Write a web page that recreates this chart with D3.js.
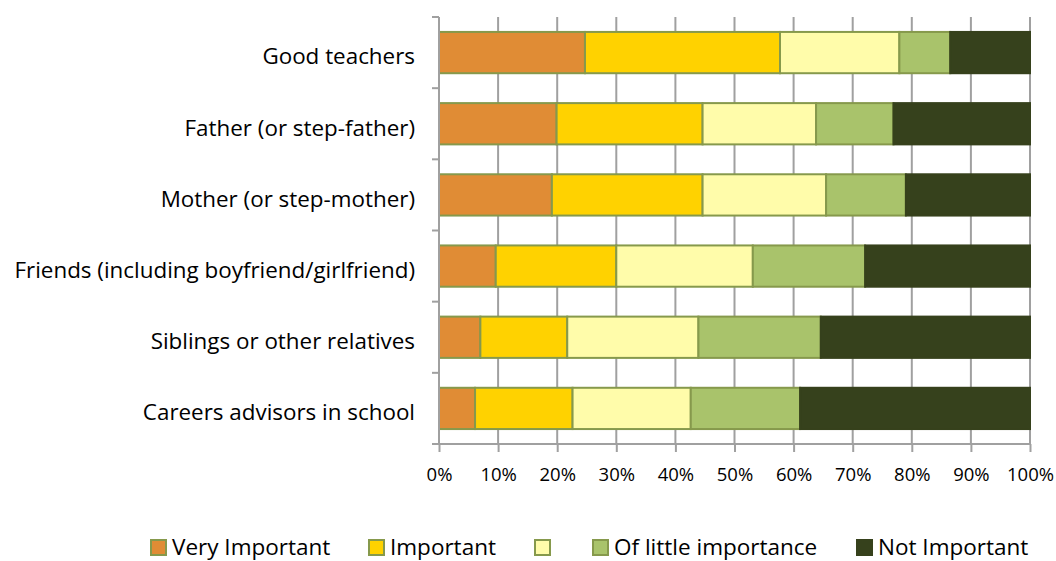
<!DOCTYPE html>
<html>
<head>
<meta charset="utf-8">
<script src="https://cdn.jsdelivr.net/npm/d3@7"></script>
<style>
  body { margin: 0; background: #fff; }
  svg { display: block; }
  .axis path, .axis line { stroke: #a0a0a0; stroke-width: 2px; }
</style>
</head>
<body>
<svg id="chart" width="1056" height="561"></svg>
<script>
// categories top to bottom
var categories = ["Good teachers", "Father (or step-father)", "Mother (or step-mother)",
  "Friends (including boyfriend/girlfriend)", "Siblings or other relatives", "Careers advisors in school"];

var seriesNames = ["Very Important", "Important", "", "Of little importance", "Not Important"];

// percentages per category, one array per series
var veryImportant   = [24.7, 19.9, 19.1, 9.6, 7.0, 6.1];
var important       = [33.0, 24.7, 25.5, 20.4, 14.7, 16.5];
var neutral         = [20.2, 19.2, 20.9, 23.1, 22.2, 20.0];
var littleImportant = [8.6, 13.1, 13.5, 19.0, 20.7, 18.5];
var notImportant    = [13.5, 23.1, 21.0, 27.9, 35.4, 38.9];

var xTicks = [0, 10, 20, 30, 40, 50, 60, 70, 80, 90, 100];

var colors = ["#e08c35", "#ffd200", "#fffcaa", "#a9c36b", "#36411c"];
var strokes = ["#86994c", "#86994c", "#86994c", "#86994c", "#36411c"];

var allSeries = [veryImportant, important, neutral, littleImportant, notImportant];
var keys = ["s0", "s1", "s2", "s3", "s4"];

var table = categories.map(function(c, i) {
  var row = {cat: c};
  allSeries.forEach(function(s, j) { row[keys[j]] = s[i]; });
  return row;
});

var svg = d3.select("#chart"),
    margin = {top: 17, right: 26, bottom: 117, left: 439},
    width = +svg.attr("width") - margin.left - margin.right,
    height = +svg.attr("height") - margin.top - margin.bottom,
    g = svg.append("g").attr("transform", "translate(" + margin.left + "," + margin.top + ")");

var x = d3.scaleLinear().domain([0, 100]).range([0, width]);
var y = d3.scaleBand().domain(categories).range([0, height]).paddingInner(0.42).paddingOuter(0.21);

// vertical gridlines
g.append("g").selectAll("line")
  .data(xTicks.slice(1))
  .enter().append("line")
  .attr("x1", function(d) { return x(d); })
  .attr("x2", function(d) { return x(d); })
  .attr("y1", 0).attr("y2", height)
  .attr("stroke", "#a0a0a0").attr("stroke-width", 2);

var stack = d3.stack().keys(keys);

var layer = g.selectAll(".serie")
  .data(stack(table))
  .enter().append("g")
  .attr("class", "serie")
  .attr("fill", function(d, i) { return colors[i]; })
  .attr("stroke", function(d, i) { return strokes[i]; });

layer.selectAll("rect")
  .data(function(d) { return d; })
  .enter().append("rect")
  .attr("x", function(d) { return x(d[0]); })
  .attr("y", function(d) { return y(d.data.cat); })
  .attr("width", function(d) { return x(d[1]) - x(d[0]); })
  .attr("height", y.bandwidth())
  .attr("stroke-width", 2);

// y axis with ticks between categories
var yAxis = g.append("g").attr("class", "axis");
yAxis.append("line")
  .attr("x1", 0).attr("x2", 0).attr("y1", 0).attr("y2", height);
var step = height / categories.length;
yAxis.selectAll(".tk")
  .data(d3.range(categories.length + 1))
  .enter().append("line")
  .attr("x1", -7).attr("x2", 0)
  .attr("y1", function(d) { return d * step; })
  .attr("y2", function(d) { return d * step; });

g.selectAll(".catlabel")
  .data(categories)
  .enter().append("text")
  .attr("x", -24)
  .attr("y", function(d) { return y(d) + y.bandwidth() / 2 + 4; })
  .attr("dy", "0.35em")
  .attr("text-anchor", "end")
  .style("font", "22.4px 'Open Sans'")
  .attr("fill", "#000")
  .text(function(d) { return d; });

// x axis
var xAxis = g.append("g")
  .attr("class", "axis")
  .attr("transform", "translate(0," + height + ")")
  .call(d3.axisBottom(x).tickValues(xTicks).tickSize(8).tickPadding(16).tickFormat(function(d) { return d + "%"; }));
xAxis.select(".domain").attr("d", "M0,0H" + width);
xAxis.selectAll("text").style("font", "18.5px 'Open Sans'").attr("fill", "#000");

// legend
var legendX = [151, 369, 535, 593, 857];
var legend = svg.selectAll(".legend")
  .data(seriesNames)
  .enter().append("g")
  .attr("class", "legend")
  .attr("transform", function(d, i) { return "translate(" + legendX[i] + ",540)"; });

legend.append("rect")
  .attr("width", 15).attr("height", 15)
  .attr("fill", function(d, i) { return colors[i]; })
  .attr("stroke", function(d, i) { return strokes[i]; })
  .attr("stroke-width", 2);

legend.append("text")
  .attr("x", 21).attr("y", 15)
  .style("font", "22.5px 'Open Sans'")
  .attr("fill", "#000")
  .text(function(d) { return d; });
</script>
</body>
</html>
